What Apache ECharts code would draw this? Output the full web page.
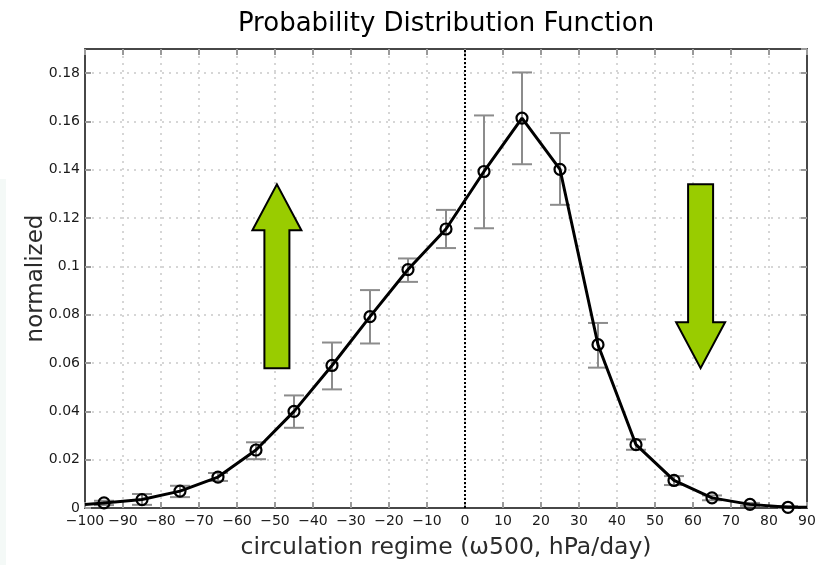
<!DOCTYPE html>
<html>
<head>
<meta charset="utf-8">
<title>Probability Distribution Function</title>
<script src="https://cdn.jsdelivr.net/npm/echarts@6/dist/echarts.min.js"></script>
<style>
  html, body { margin: 0; padding: 0; background: #fff; }
  #chart { width: 828px; height: 565px; }
</style>
</head>
<body>
<div id="chart"></div>
<script>
// Bin centres of the circulation regime (omega500, hPa/day)
const regimeBins = [-95, -85, -75, -65, -55, -45, -35, -25, -15, -5, 5, 15, 25, 35, 45, 55, 65, 75, 85];
// Normalized frequency of each regime
const pdfValues = [0.0021, 0.0035, 0.0070, 0.0128, 0.0240, 0.0400, 0.0590, 0.0792, 0.0987, 0.1155,
                   0.1393, 0.1614, 0.1402, 0.0676, 0.0262, 0.0114, 0.0042, 0.0015, 0.0003];
// Lower / upper ends of the error bars
const errLow  = [0.0012, 0.0013, 0.0045, 0.0112, 0.0202, 0.0332, 0.0491, 0.0681, 0.0936, 0.1076,
                 0.1158, 0.1423, 0.1255, 0.0581, 0.0241, 0.0095, 0.0032, 0.0009, 0.0000];
const errHigh = [0.0030, 0.0058, 0.0092, 0.0145, 0.0272, 0.0466, 0.0685, 0.0902, 0.1033, 0.1234,
                 0.1625, 0.1803, 0.1552, 0.0766, 0.0284, 0.0132, 0.0052, 0.0021, 0.0008];
// Curve continues to the plot edges
const edgeX = [-100, 90];
const edgeY = [0.0014, 0.0003];
// Tendency arrows: [x, tail value, tip value]
const arrowUp   = [-49.5, 0.0579, 0.1340];
const arrowDown = [62, 0.1340, 0.0579];

const xTicks = { min: -100, max: 90, step: 10 };
const yTicks = { min: 0, max: 0.19, step: 0.02 };

const FONT = '"DejaVu Sans", Verdana, sans-serif';
const frameColor = '#474747';
const tickColor = '#9a9a9a';
const gridColor = '#c9c9c9';

const curve = [[edgeX[0], edgeY[0]]]
  .concat(regimeBins.map((x, i) => [x, pdfValues[i]]))
  .concat([[edgeX[1], edgeY[1]]]);
const points = regimeBins.map((x, i) => [x, pdfValues[i]]);
const bars = regimeBins.map((x, i) => [x, errLow[i], errHigh[i]]);

function fmtX(v) { return v < 0 ? '\u2212' + (-v) : String(v); }
function fmtY(v) {
  const r = Math.round(v * 100) / 100;
  if (Math.abs(r - yTicks.max) < 1e-9) return '';
  return String(r);
}

function frameAxis(extra) {
  return Object.assign({
    type: 'value',
    axisLine: { show: true, onZero: false, lineStyle: { color: frameColor, width: 2 } },
    axisTick: { show: true, inside: true, length: 6, lineStyle: { color: tickColor, width: 2 } },
    axisLabel: { show: false },
    splitLine: { show: false }
  }, extra);
}

const chart = echarts.init(document.getElementById('chart'), null, { renderer: 'canvas' });

const option = {
  animation: false,
  backgroundColor: '#ffffff',
  grid: { left: 85, right: 21, top: 49, bottom: 56, containLabel: false },
  graphic: [
    {
      type: 'rect', silent: true, z: -10,
      shape: { x: 0, y: 179, width: 6, height: 386 },
      style: { fill: '#f4f9f7' }
    },
    {
      type: 'text', silent: true,
      x: 446, y: 24,
      style: {
        text: 'Probability Distribution Function',
        font: '26px ' + FONT, fill: '#000',
        textAlign: 'center', textVerticalAlign: 'middle'
      }
    }
  ],
  xAxis: [
    frameAxis({
      min: xTicks.min, max: xTicks.max, interval: xTicks.step,
      position: 'bottom',
      name: 'circulation regime (\u03c9500, hPa/day)',
      nameLocation: 'middle', nameGap: 28, nameMoveOverlap: false,
      nameTextStyle: { fontFamily: FONT, fontSize: 23.5, color: '#2b2b2b' },
      axisLabel: { show: true, formatter: fmtX, margin: 6, fontFamily: FONT, fontSize: 14, color: '#1a1a1a',
                   showMinLabel: true, showMaxLabel: true },
      splitLine: { show: true, lineStyle: { color: gridColor, width: 1.5, type: [2, 5] } }
    }),
    frameAxis({ min: xTicks.min, max: xTicks.max, interval: xTicks.step, position: 'top' })
  ],
  yAxis: [
    frameAxis({
      min: yTicks.min, max: yTicks.max, interval: yTicks.step,
      position: 'left',
      name: 'normalized',
      nameLocation: 'middle', nameGap: 37, nameMoveOverlap: false,
      nameTextStyle: { fontFamily: FONT, fontSize: 23, color: '#2b2b2b' },
      axisLabel: { show: true, formatter: fmtY, margin: 5, fontFamily: FONT, fontSize: 14, color: '#1a1a1a',
                   showMinLabel: true, showMaxLabel: false },
      splitLine: { show: true, lineStyle: { color: gridColor, width: 1.5, type: [2, 5] } }
    }),
    frameAxis({ min: yTicks.min, max: yTicks.max, interval: yTicks.step, position: 'right' })
  ],
  series: [
    {
      // tendency arrows
      type: 'custom', silent: true, z: 1,
      xAxisIndex: 0, yAxisIndex: 0,
      encode: { x: 0, y: [1, 2] },
      data: [arrowUp, arrowDown],
      renderItem: function (params, api) {
        const x = api.value(0);
        const tail = api.coord([x, api.value(1)]);
        const tip = api.coord([x, api.value(2)]);
        const dir = tip[1] < tail[1] ? -1 : 1;
        const cx = tail[0];
        const shaft = 12.5, head = 24.5, headLen = 46;
        const baseY = tip[1] - dir * headLen;
        return {
          type: 'polygon',
          shape: {
            points: [
              [cx - shaft, tail[1]], [cx + shaft, tail[1]],
              [cx + shaft, baseY], [cx + head, baseY],
              [cx, tip[1]],
              [cx - head, baseY], [cx - shaft, baseY]
            ]
          },
          style: { fill: '#99cc00', stroke: '#000', lineWidth: 2, lineJoin: 'miter' }
        };
      }
    },
    {
      // error bars
      type: 'custom', silent: true, z: 2,
      xAxisIndex: 0, yAxisIndex: 0,
      encode: { x: 0, y: [1, 2] },
      data: bars,
      renderItem: function (params, api) {
        const x = api.value(0);
        const lo = api.coord([x, api.value(1)]);
        const hi = api.coord([x, api.value(2)]);
        const cap = 10;
        const st = { stroke: '#8c8c8c', lineWidth: 2 };
        return {
          type: 'group',
          children: [
            { type: 'line', shape: { x1: lo[0], y1: lo[1], x2: hi[0], y2: hi[1] }, style: st },
            { type: 'line', shape: { x1: hi[0] - cap, y1: hi[1], x2: hi[0] + cap, y2: hi[1] }, style: st },
            { type: 'line', shape: { x1: lo[0] - cap, y1: lo[1], x2: lo[0] + cap, y2: lo[1] }, style: st }
          ]
        };
      }
    },
    {
      // distribution curve
      type: 'line', silent: true, z: 3,
      xAxisIndex: 0, yAxisIndex: 0,
      data: curve,
      showSymbol: false,
      lineStyle: { color: '#000', width: 3 },
      markLine: {
        silent: true, symbol: 'none',
        label: { show: false },
        lineStyle: { color: '#000', width: 2, type: [2, 2] },
        data: [{ xAxis: 0 }]
      }
    },
    {
      // bin markers
      type: 'scatter', silent: true, z: 4,
      xAxisIndex: 0, yAxisIndex: 0,
      data: points,
      symbol: 'circle', symbolSize: 11,
      itemStyle: { color: 'rgba(0,0,0,0)', borderColor: '#000', borderWidth: 2.2, opacity: 1 }
    }
  ]
};

chart.setOption(option);
</script>
</body>
</html>
